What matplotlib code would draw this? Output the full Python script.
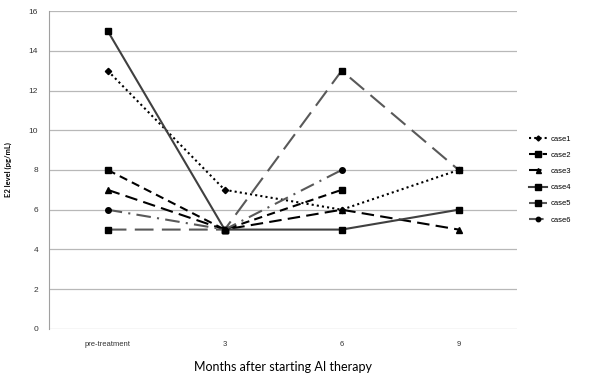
import numpy as np
import matplotlib
matplotlib.use('Agg')
import matplotlib.pyplot as plt

months = ['pre-treatment', '3', '6', '9']
case1 = [13, 7, 6, 8]
case2 = [8, 5, 7, np.nan]
case3 = [7, 5, 6, 5]
case4 = [15, 5, 5, 6]
case5 = [5, 5, 13, 8]
case6 = [6, 5, 8, np.nan]
yticks = [0, 2, 4, 6, 8, 10, 12, 14, 16]

plt.rcParams['font.family'] = ['Lato', 'DejaVu Sans']

fig = plt.figure(figsize=(6, 3.82), dpi=100)
ax = fig.add_axes([0.082, 0.139, 0.78, 0.832])

x = np.arange(len(months))
styles = [
    ('case1', case1, '#000000', (0, (1, 1.5)), 'D', 3.2),
    ('case2', case2, '#000000', (0, (4, 2.5)), 's', 5),
    ('case3', case3, '#000000', (0, (6, 3)), '^', 4.5),
    ('case4', case4, '#404040', '-', 's', 5),
    ('case5', case5, '#595959', (0, (9, 4)), 's', 5),
    ('case6', case6, '#595959', (0, (7, 3, 1, 3)), 'o', 4),
]
for name, vals, c, ls, mk, ms in styles:
    ax.plot(x, vals, color=c, linestyle=ls, linewidth=1.5, marker=mk,
            markersize=ms, markerfacecolor='black', markeredgecolor='black',
            label=name)

ax.set_xlim(-0.5, 3.5)
ax.set_ylim(0, 16)
ax.set_yticks(yticks)
ax.set_xticks(x)
ax.set_xticklabels(months, fontsize=5.5, family=['Liberation Sans'])
ax.set_yticklabels([str(t) for t in yticks], fontsize=6, family=['Liberation Sans'])
ax.tick_params(length=0, pad=9, colors='#333333')
ax.tick_params(axis='y', pad=8)
ax.grid(axis='y', color='#b8b8b8', linewidth=0.9)
ax.set_axisbelow(True)
for s in ['top', 'right', 'bottom']:
    ax.spines[s].set_visible(False)
ax.spines['left'].set_color('#a0a0a0')

ax.set_ylabel('E2 level (pg/mL)', fontsize=5.5, fontweight='bold', labelpad=12)
ax.set_xlabel('Months after starting AI therapy', fontsize=9, labelpad=9)

leg = ax.legend(loc='center left', bbox_to_anchor=(1.01, 0.47), frameon=False,
                handlelength=2.4, labelspacing=1.15, handletextpad=0.4,
                markerscale=0.8,
                prop={'family': ['Liberation Sans'], 'size': 5.5})

fig.savefig('out.png', dpi=100)
